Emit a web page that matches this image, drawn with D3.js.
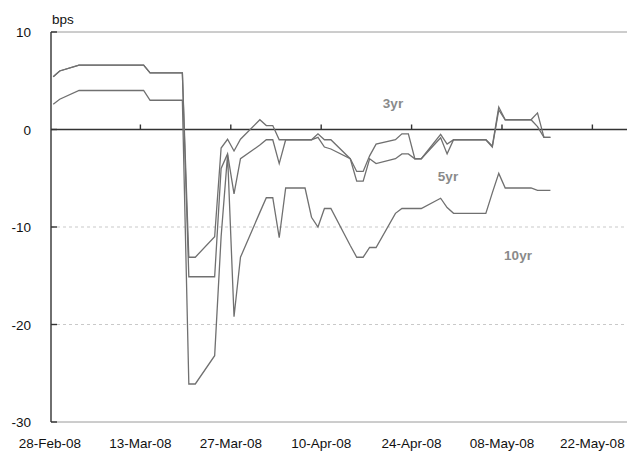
<!DOCTYPE html>
<html>
<head>
<meta charset="utf-8">
<script src="https://cdn.jsdelivr.net/npm/d3@7"></script>
<style>
  body { margin: 0; background: #fff; }
  text { font-family: "Liberation Sans", Arial, sans-serif; }
</style>
</head>
<body>
<script>
// Trading days shown on the chart
var dates = [
  "2008-02-28","2008-02-29",
  "2008-03-03","2008-03-04","2008-03-05","2008-03-06","2008-03-07",
  "2008-03-10","2008-03-11","2008-03-12","2008-03-13","2008-03-14",
  "2008-03-17","2008-03-18","2008-03-19","2008-03-20","2008-03-21",
  "2008-03-24","2008-03-25","2008-03-26","2008-03-27","2008-03-28",
  "2008-03-31","2008-04-01","2008-04-02","2008-04-03","2008-04-04",
  "2008-04-07","2008-04-08","2008-04-09","2008-04-10","2008-04-11",
  "2008-04-14","2008-04-15","2008-04-16","2008-04-17","2008-04-18",
  "2008-04-21","2008-04-22","2008-04-23","2008-04-24","2008-04-25",
  "2008-04-28","2008-04-29","2008-04-30","2008-05-01","2008-05-02",
  "2008-05-05","2008-05-06","2008-05-07","2008-05-08","2008-05-09",
  "2008-05-12","2008-05-13","2008-05-14","2008-05-15"
];

// Spread changes in bps
var yr3 = [
  5.4, 6.0,
  6.6, 6.6, 6.6, 6.6, 6.6,
  6.6, 6.6, 6.6, 6.6, 5.8,
  5.8, 5.8, 5.8, -13.1, -13.1,
  -11.0, -1.9, -1.0, -2.2, -1.0,
  1.0, 0.4, 0.4, -1.05, -1.05,
  -1.05, -1.05, -0.45, -1.05, -1.05,
  -3.0, -4.3, -4.3, -2.7, -1.5,
  -1.05, -0.45, -0.45, -3.0, -3.0,
  -0.5, -1.5, -1.05, -1.05, -1.05,
  -1.05, -1.7, 2.3, 1.0, 1.0,
  1.0, 1.7, -0.8, -0.8
];
var yr5 = [
  5.4, 6.0,
  6.6, 6.6, 6.6, 6.6, 6.6,
  6.6, 6.6, 6.6, 6.6, 5.8,
  5.8, 5.8, 5.8, -15.1, -15.1,
  -15.1, -4.0, -2.5, -6.6, -3.0,
  -1.6, -1.05, -1.05, -3.5, -1.05,
  -1.05, -1.05, -0.8, -1.8, -2.0,
  -3.0, -5.3, -5.3, -3.0, -3.5,
  -3.0, -2.5, -2.5, -3.0, -3.0,
  -0.85, -2.5, -1.05, -1.05, -1.05,
  -1.05, -1.8, 2.0, 1.0, 1.0,
  1.0, 0.3, -0.8, -0.8
];
var yr10 = [
  2.6, 3.1,
  4.0, 4.0, 4.0, 4.0, 4.0,
  4.0, 4.0, 4.0, 4.0, 3.0,
  3.0, 3.0, 3.0, -26.1, -26.1,
  -23.2, -11.0, -2.6, -19.2, -13.1,
  -8.5, -7.0, -7.0, -11.1, -6.0,
  -6.0, -9.0, -10.0, -8.1, -8.1,
  -11.9, -13.1, -13.1, -12.1, -12.1,
  -8.6, -8.1, -8.1, -8.1, -8.1,
  -7.05, -8.0, -8.6, -8.6, -8.6,
  -8.6, -6.5, -4.5, -6.0, -6.0,
  -6.0, -6.25, -6.25, -6.25
];

var seriesNames = ["3yr", "5yr", "10yr"];
var seriesValues = [yr3, yr5, yr10];

var yTicks = [10, 0, -10, -20, -30];
var xTickLabels = ["28-Feb-08", "13-Mar-08", "27-Mar-08", "10-Apr-08", "24-Apr-08", "08-May-08", "22-May-08"];

var width = 627, height = 457;
var parse = d3.timeParse("%Y-%m-%d");
var parseTick = d3.timeParse("%d-%b-%y");

var svg = d3.select("body").append("svg")
    .attr("width", width)
    .attr("height", height);

// x: ~6.46 px per calendar day, first tick at 28-Feb
var x = d3.scaleTime()
    .domain([parse("2008-02-28"), parse("2008-05-28")])
    .range([50, 50 + 90 * 6.457]);

var y = d3.scaleLinear()
    .domain([-30, 10])
    .range([422, 32]);

var x0 = 51;

// grid lines
svg.append("g").selectAll("line")
    .data(yTicks)
    .enter().append("line")
    .attr("x1", x0)
    .attr("x2", width)
    .attr("y1", d => y(d))
    .attr("y2", d => y(d))
    .attr("stroke", d => d == 0 ? "#333" : (d == 10 || d == -30) ? "#9a9a9a" : "#c9c9c9")
    .attr("stroke-width", d => d == 0 ? 1.4 : 1)
    .attr("stroke-dasharray", d => (d == -10 || d == -20) ? "3,3" : null);

// left axis
svg.append("line")
    .attr("x1", x0).attr("x2", x0)
    .attr("y1", y(10)).attr("y2", y(-30))
    .attr("stroke", "#333").attr("stroke-width", 1.4);

svg.append("g").selectAll("line")
    .data(yTicks)
    .enter().append("line")
    .attr("x1", x0).attr("x2", x0 + 6)
    .attr("y1", d => y(d)).attr("y2", d => y(d))
    .attr("stroke", "#333").attr("stroke-width", 1.4);

svg.append("g").selectAll("text")
    .data(yTicks)
    .enter().append("text")
    .attr("x", 31)
    .attr("y", d => y(d) + 5)
    .attr("text-anchor", "end")
    .attr("font-size", 13.5)
    .attr("fill", "#111")
    .text(d => d);

svg.append("text")
    .attr("x", 52).attr("y", 24)
    .attr("font-size", 13.5)
    .attr("fill", "#111")
    .text("bps");

// date ticks on the zero line, labels at the bottom
var tickDates = xTickLabels.map(parseTick);

svg.append("g").selectAll("line")
    .data(tickDates.slice(1))
    .enter().append("line")
    .attr("x1", d => x(d)).attr("x2", d => x(d))
    .attr("y1", y(0) - 5).attr("y2", y(0))
    .attr("stroke", "#333").attr("stroke-width", 1.4);

svg.append("g").selectAll("text")
    .data(tickDates)
    .enter().append("text")
    .attr("x", d => x(d))
    .attr("y", 448)
    .attr("text-anchor", "middle")
    .attr("font-size", 13.5)
    .attr("fill", "#111")
    .text((d, i) => xTickLabels[i]);

// series lines, points plotted mid-day
var line = d3.line()
    .x((d, i) => x(d3.timeHour.offset(parse(dates[i]), 12)))
    .y(d => y(d));

svg.append("g").selectAll("path")
    .data(seriesValues)
    .enter().append("path")
    .attr("fill", "none")
    .attr("stroke", "#707070")
    .attr("stroke-width", 1.3)
    .attr("stroke-linejoin", "miter")
    .attr("d", line);

// series labels
var labelPos = [[393, 108], [448, 181], [518, 260]];
svg.append("g").selectAll("text")
    .data(seriesNames)
    .enter().append("text")
    .attr("x", (d, i) => labelPos[i][0])
    .attr("y", (d, i) => labelPos[i][1])
    .attr("text-anchor", "middle")
    .attr("font-size", 13.5)
    .attr("font-weight", "bold")
    .attr("fill", "#8a8a8a")
    .text(d => d);
</script>
</body>
</html>
